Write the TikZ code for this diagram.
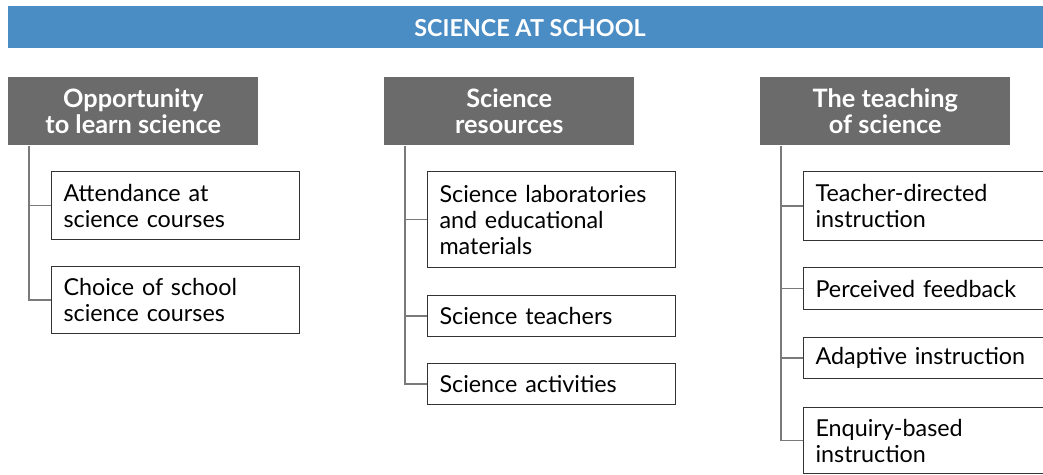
\documentclass[tikz,border=0pt]{standalone}
\usepackage{fontspec}
\setmainfont{Lato}
\usetikzlibrary{positioning}
\definecolor{bannerblue}{HTML}{4A8CC4}
\definecolor{headgray}{HTML}{6B6B6B}
\definecolor{linkgray}{HTML}{7A7A7A}
\definecolor{boxline}{HTML}{333333}

\begin{document}
\begin{tikzpicture}[x=0.75pt,y=-0.75pt,
            title/.style={text=white,font=\bfseries\fontsize{17.5}{20}\selectfont},
            head/.style={fill=headgray,text=white,anchor=north west,inner sep=0,
                         minimum width=187.5pt,minimum height=51pt,align=center,
                         font=\bfseries\fontsize{19}{19.5}\selectfont},
            item/.style={draw=boxline,line width=.8pt,anchor=north west,inner xsep=9pt,inner ysep=0,
                         text width=168pt,align=left,font=\fontsize{17.5}{19.5}\selectfont},
            wide/.style={item,text width=200pt},
            link/.style={draw=linkgray,line width=1.1pt}
          ]
          \clip (0,0) rectangle (1043,475);
          \fill[bannerblue] (8,6) rectangle (1043,48);
          \node[title] (banner) at (530,28) {SCIENCE AT SCHOOL};

          %headers
          \node[head] (opp) at (8,77) {Opportunity\\to learn science};
          \node[head] (res) at (384,77) {Science\\resources};
          \node[head] (teach) at (760,77) {The teaching\\of science};

          %opportunity to learn
          \node[item,minimum height=51pt] (attend) at (51,171) {Attendance at\\science courses};
          \node[item,minimum height=50pt] (choice) at (51,266) {Choice of school\\science courses};

          %resources
          \node[item,minimum height=72pt] (labs) at (427,171) {Science laboratories\\and educational\\materials};
          \node[item,minimum height=30.75pt] (staff) at (427,295) {Science teachers};
          \node[item,minimum height=30.75pt] (activ) at (427,363) {Science activities};

          %teaching
          \node[wide,minimum height=51.75pt] (directed) at (803,171) {Teacher-directed\\instruction};
          \node[wide,minimum height=31.5pt] (feedback) at (803,267) {Perceived feedback};
          \node[wide,minimum height=30.75pt] (adaptive) at (803,337) {Adaptive instruction};
          \node[wide,minimum height=49.5pt] (enquiry) at (803,407) {Enquiry-based\\instruction};

          %trees
          \coordinate (opptrunk) at ([xshift=15.75pt]opp.south west);
          \coordinate (restrunk) at ([xshift=15.75pt]res.south west);
          \coordinate (teachtrunk) at ([xshift=15.75pt]teach.south west);
          \path[link]
          (opptrunk) |- (choice.west)
          (opptrunk |- attend.west) -- (attend.west)
          (restrunk) |- (activ.west)
          (restrunk |- labs.west) -- (labs.west)
          (restrunk |- staff.west) -- (staff.west)
          (teachtrunk) |- (enquiry.west)
          (teachtrunk |- directed.west) -- (directed.west)
          (teachtrunk |- feedback.west) -- (feedback.west)
          (teachtrunk |- adaptive.west) -- (adaptive.west)
          ;
      \end{tikzpicture}
\end{document}
